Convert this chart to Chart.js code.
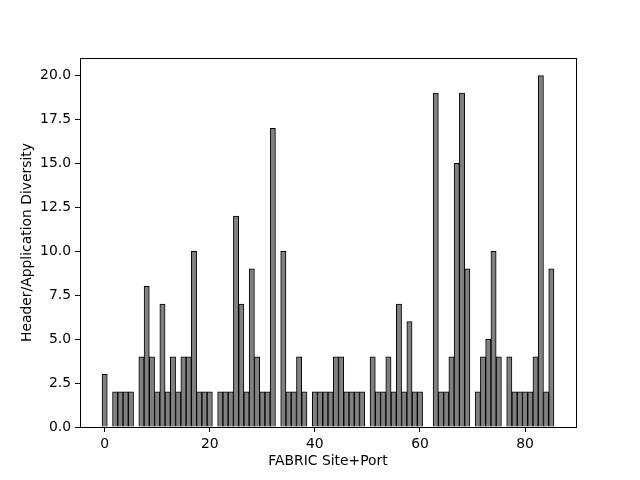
<!DOCTYPE html>
<html>
<head>
<meta charset="utf-8">
<script src="https://cdn.jsdelivr.net/npm/chart.js@4/dist/chart.umd.min.js"></script>
<style>
html,body{margin:0;padding:0;background:#fff;}
#wrap{width:640px;height:480px;}
</style>
</head>
<body>
<div id="wrap"><canvas id="c" width="640" height="480"></canvas></div>
<script>
const sites = [];
for (let i = 0; i <= 85; i++) sites.push(i);
const diversity = [
  3,0,2,2,2,2,0,4,8,4,
  2,7,2,4,2,4,4,10,2,2,
  2,0,2,2,2,12,7,2,9,4,
  2,2,17,0,10,2,2,4,2,0,
  2,2,2,2,4,4,2,2,2,2,
  0,4,2,2,4,2,7,2,6,2,
  2,0,0,19,2,2,4,15,19,9,
  0,2,4,5,10,4,0,4,2,2,
  2,2,4,20,2,9
];
const xTicks = [0,20,40,60,80];
const yTicks = [0,2.5,5,7.5,10,12.5,15,17.5,20];
const xLabel = 'FABRIC Site+Port';
const yLabel = 'Header/Application Diversity';

const FONT = {family: 'DejaVu Sans', size: 13.9};

const frame = {
  id: 'frame',
  afterDatasetsDraw(chart) {
    const a = chart.chartArea, ctx = chart.ctx;
    ctx.save();
    ctx.strokeStyle = '#000';
    ctx.lineWidth = 1;
    ctx.strokeRect(Math.round(a.left) + 0.5, Math.round(a.top) + 0.5,
                   Math.round(a.right - a.left), Math.round(a.bottom - a.top));
    ctx.restore();
  }
};

new Chart(document.getElementById('c'), {
  type: 'bar',
  data: {
    datasets: [{
      data: sites.map((s, i) => ({x: s, y: diversity[i]})),
      backgroundColor: '#808080',
      borderColor: '#000000',
      borderWidth: 1,
      barPercentage: 1.0,
      categoryPercentage: 1.0
    }]
  },
  options: {
    responsive: false,
    animation: false,
    devicePixelRatio: 1,
    layout: {padding: {left: 0, right: 64, top: 58, bottom: 0}},
    plugins: {legend: {display: false}, tooltip: {enabled: false}},
    scales: {
      x: {
        type: 'linear',
        min: -4.69, max: 89.69,
        offset: false,
        grid: {display: true, drawOnChartArea: false, drawTicks: true, tickLength: 5, color: '#000', offset: false},
        border: {display: true, color: '#000'},
        ticks: {color: '#000', font: FONT, padding: 4, maxRotation: 0},
        afterBuildTicks(scale) { scale.ticks = xTicks.map(v => ({value: v})); },
        afterFit(scale) { scale.height = 53; },
        title: {display: true, text: xLabel, color: '#000', font: FONT, padding: {top: 2, bottom: 10}}
      },
      y: {
        type: 'linear',
        min: 0, max: 21,
        grid: {display: true, drawOnChartArea: false, drawTicks: true, tickLength: 5, color: '#000'},
        border: {display: true, color: '#000'},
        ticks: {color: '#000', font: FONT, padding: 4, callback: v => Number(v).toFixed(1)},
        afterBuildTicks(scale) { scale.ticks = yTicks.map(v => ({value: v})); },
        afterFit(scale) { scale.width = 80; },
        title: {display: true, text: yLabel, color: '#000', font: FONT, padding: {top: 19, bottom: 4}}
      }
    }
  },
  plugins: [frame]
});
</script>
</body>
</html>
